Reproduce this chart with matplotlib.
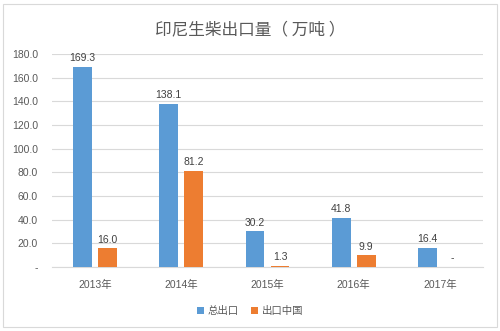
import matplotlib.pyplot as plt
import numpy as np
from matplotlib.patches import Rectangle

plt.rcParams['font.family'] = ['Liberation Sans', 'Noto Sans CJK SC', 'DejaVu Sans']

years = ['2013年', '2014年', '2015年', '2016年', '2017年']
total_export = [169.3, 138.1, 30.2, 41.8, 16.4]
export_china = [16.0, 81.2, 1.3, 9.9, 0.0]
series_names = ['总出口', '出口中国']
yticks = [0, 20, 40, 60, 80, 100, 120, 140, 160, 180]

blue = '#5B9BD5'
orange = '#ED7D31'
text_color = '#595959'

fig = plt.figure(figsize=(5.0, 3.31), dpi=100)
fig.patch.set_facecolor('white')
fig.patches.append(Rectangle((0.006, 0.012), 0.988, 0.976, transform=fig.transFigure,
                             fill=False, edgecolor='#D9D9D9', linewidth=0.8))

ax = fig.add_axes([0.104, 0.193, 0.862, 0.644])
x = np.arange(len(years))
w = 0.22
gap = 0.035
b1 = ax.bar(x - w / 2 - gap, total_export, w, color=blue, label=series_names[0], zorder=3)
b2 = ax.bar(x + w / 2 + gap, export_china, w, color=orange, label=series_names[1], zorder=3)

for xi, v in zip(x - w / 2 - gap, total_export):
    ax.text(xi, v + 3, f'{v:.1f}', ha='center', va='bottom', fontsize=7.5, color='#404040')
for xi, v in zip(x + w / 2 + gap, export_china):
    lab = f'{v:.1f}' if v > 0 else '-'
    ax.text(xi, v + 3, lab, ha='center', va='bottom', fontsize=7.5, color='#404040')

ax.set_ylim(0, 180)
ax.set_xlim(-0.5, len(years) - 0.5)
ax.set_yticks(yticks)
ax.set_yticklabels(['-' if t == 0 else f'{t:.1f}' for t in yticks])
ax.set_xticks(x)
ax.set_xticklabels(years)
ax.tick_params(axis='both', length=0, labelsize=7.5, labelcolor=text_color)
ax.tick_params(axis='y', pad=10)
ax.tick_params(axis='x', pad=9)
ax.grid(axis='y', color='#D9D9D9', linewidth=0.8, zorder=0)
for s in ['top', 'right', 'left']:
    ax.spines[s].set_visible(False)
ax.spines['bottom'].set_color('#D9D9D9')
ax.spines['bottom'].set_linewidth(0.8)

fig.text(0.5, 0.91, '印尼生柴出口量（ 万吨 ）', ha='center', va='center', fontsize=12,
         color=text_color, family=['Noto Sans CJK SC', 'DejaVu Sans'])

leg = fig.legend(handles=[b1, b2], loc='center', bbox_to_anchor=(0.5, 0.06), ncol=2,
                 frameon=False, fontsize=7.5, handlelength=0.7, handleheight=0.7,
                 handletextpad=0.3, columnspacing=1.2)
for t in leg.get_texts():
    t.set_color(text_color)

fig.savefig('out.png', dpi=100, facecolor='white')
